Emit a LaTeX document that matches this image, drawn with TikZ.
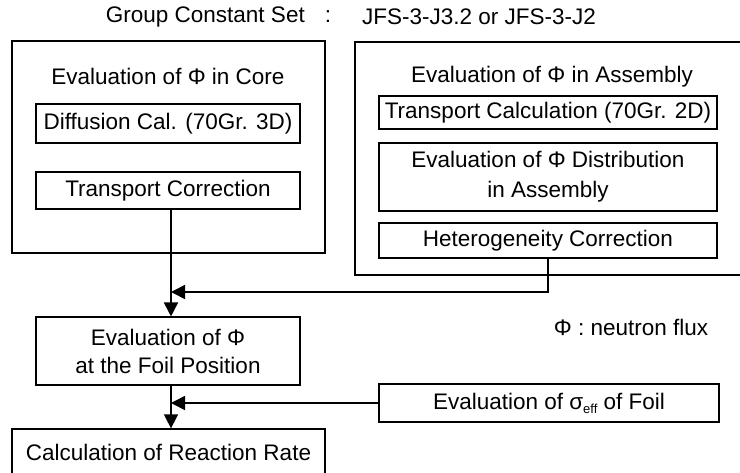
\documentclass[tikz,border=0pt]{standalone}
\usepackage{fontspec}
\setmainfont{Liberation Sans}
\usetikzlibrary{arrows.meta}
\tikzset{
  txt/.style={font=\fontsize{22.5}{28}\selectfont, inner sep=0pt, align=center},
  stepbox/.style={txt, draw, line width=1.1pt, minimum width=#1},
  flow/.style={line width=1.6pt, -{Triangle[length=14pt,width=14pt]}},
  link/.style={line width=1.6pt}
}
\begin{document}
\begin{tikzpicture}[x=1pt,y=-1pt]
    \useasboundingbox (0,0) rectangle (740,472);
    \clip (0,0) rectangle (740,472);
    % header
    \node[txt,anchor=east] (gcs) at (305,17) {Group Constant Set};
    \node[txt] (colon) at (328,17) {:};
    \node[txt,anchor=west] (jfs) at (362,17) {JFS-3-J3.2 or JFS-3-J2};
    % core side
    \draw[line width=1.4pt] (12,41) rectangle (325,253);
    \node[txt] (core) at (168,76) {Evaluation of Φ in Core};
    \node[stepbox=264pt, minimum height=39pt] (diff) at (168,123.5) {Diffusion Cal. (70Gr. 3D)};
    \node[stepbox=264pt, minimum height=37pt] (tcor) at (168,190.5) {Transport Correction};
    % assembly side
    \draw[line width=1.4pt] (745,42) -- (355,42) -- (355,275) -- (745,275);
    \node[txt] (asm) at (552,77) {Evaluation of Φ in Assembly};
    \node[stepbox=338pt, minimum height=33pt] (tcal) at (548,112.5) {Transport Calculation (70Gr. 2D)};
    \node[stepbox=338pt, minimum height=68pt, font=\fontsize{22.5}{30}\selectfont] (dist) at (548,177) {\raisebox{-3pt}{Evaluation of Φ Distribution}\\\raisebox{-3pt}{in Assembly}};
    \node[stepbox=338pt, minimum height=35pt] (het) at (548,240.5) {Heterogeneity Correction};
    % foil and result
    \node[stepbox=264pt, minimum height=68pt] (foil) at (168,351) {\raisebox{-2pt}{Evaluation of Φ}\\\raisebox{-2pt}{at the Foil Position}};
    \node[stepbox=340pt, minimum height=38pt] (sig) at (549,403) {Evaluation of σ\raisebox{-4pt}{\fontsize{13}{13}\selectfont eff} of Foil};
    \node[stepbox=313pt, minimum height=62pt, line width=1.3pt, text depth=0pt] (rate) at (168.5,460) {\raisebox{16pt}{Calculation of Reaction Rate}};
    \node[txt] (note) at (631,327) {Φ : neutron flux};
    % connectors
    \coordinate (j1) at (171,292);
    \coordinate (j2) at (171,403);
    \draw[flow] (tcor.south -| j1) -- (foil.north -| j1);
    \draw[link] (het.south) |- (546,292);
    \draw[flow] (546,292) -- (j1);
    \draw[flow] (foil.south -| j2) -- (rate.north -| j2);
    \draw[flow] (sig.west) -- (j2);
\end{tikzpicture}
\end{document}
